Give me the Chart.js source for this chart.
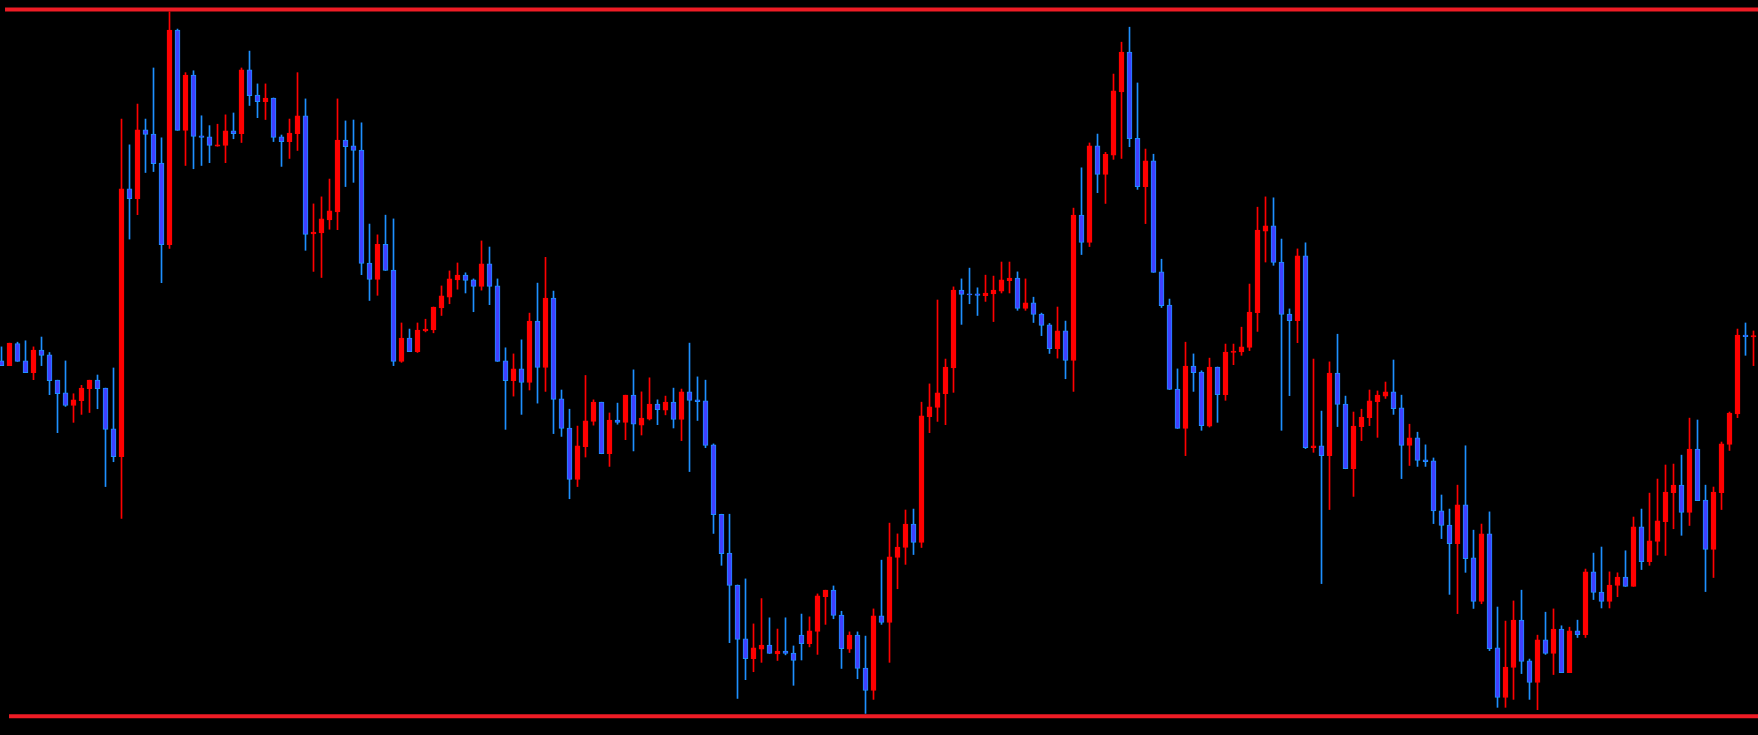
<!DOCTYPE html>
<html>
<head>
<meta charset="utf-8">
<title>Candles</title>
<script src="https://cdn.jsdelivr.net/npm/chart.js@4/dist/chart.umd.min.js"></script>
<style>
  html, body { margin: 0; padding: 0; background: #000; overflow: hidden; }
  #wrap { position: relative; width: 1758px; height: 735px; }
</style>
</head>
<body>
<div id="wrap"><canvas id="chart"></canvas></div>
<script>
// OHLC, one entry per bar (220 bars)
const opens = [
  83.0, 82.0, 86.7, 83.0, 80.5, 85.3, 84.3, 78.9, 76.2, 73.5,
  74.5, 77.1, 78.9, 77.2, 68.5, 62.6, 119.7, 117.6, 132.3, 131.4,
  125.2, 107.8, 153.6, 132.2, 144.0, 131.0, 130.8, 128.8, 129.0, 132.1,
  131.5, 145.1, 139.7, 138.3, 139.1, 130.8, 129.8, 131.5, 135.3, 110.1,
  110.3, 113.1, 114.8, 130.1, 128.9, 128.0, 103.9, 100.4, 107.9, 102.4,
  82.9, 87.9, 85.0, 89.4, 89.6, 94.3, 96.6, 100.3, 101.3, 100.3,
  98.9, 103.7, 99.0, 83.0, 78.8, 81.3, 78.4, 91.5, 81.6, 96.4,
  74.9, 68.7, 57.7, 64.7, 70.1, 74.2, 63.2, 70.4, 69.9, 75.7,
  69.3, 70.6, 73.8, 72.5, 74.2, 70.5, 76.4, 74.7, 74.5, 65.1,
  50.3, 42.0, 35.2, 23.7, 19.5, 21.5, 22.4, 20.5, 21.1, 20.7,
  24.5, 22.7, 25.3, 32.7, 34.1, 28.8, 21.5, 24.5, 17.5, 12.7,
  28.6, 27.2, 41.1, 43.2, 48.2, 44.3, 71.1, 73.1, 76.0, 81.5,
  98.1, 97.3, 97.3, 96.9, 97.3, 97.9, 100.1, 100.7, 94.2, 95.4,
  93.0, 90.7, 85.6, 89.4, 83.1, 114.1, 108.3, 128.9, 122.8, 126.9,
  140.4, 148.9, 130.5, 120.2, 125.7, 102.0, 94.9, 77.0, 68.6, 81.9,
  80.6, 69.1, 81.7, 75.8, 84.8, 84.9, 85.9, 93.3, 110.7, 111.8,
  104.1, 93.0, 91.6, 105.4, 64.5, 64.9, 62.8, 80.4, 73.8, 60.0,
  69.0, 70.9, 74.3, 75.5, 76.4, 73.0, 65.0, 66.6, 61.9, 61.7,
  51.0, 48.0, 44.0, 52.3, 41.0, 31.7, 46.1, 21.8, 11.2, 17.6,
  27.7, 19.0, 14.4, 23.5, 20.6, 25.8, 16.5, 25.4, 24.6, 38.0,
  33.7, 31.7, 35.1, 36.9, 34.9, 47.6, 40.2, 44.5, 48.7, 54.9,
  56.5, 50.7, 64.2, 53.3, 42.8, 54.9, 65.2, 71.7, 88.5, 88.1
];
const highs = [
  86.0, 86.8, 87.0, 87.3, 86.0, 88.1, 84.8, 78.9, 83.0, 76.0,
  77.8, 78.9, 80.0, 77.2, 81.5, 134.6, 129.1, 137.8, 134.6, 145.5,
  130.6, 157.5, 153.8, 144.5, 144.9, 135.3, 133.2, 133.5, 135.5, 135.9,
  145.5, 149.1, 142.1, 142.1, 139.1, 131.2, 134.6, 144.5, 138.9, 116.5,
  118.0, 121.8, 138.9, 134.2, 134.4, 133.8, 112.2, 109.9, 114.1, 113.3,
  91.1, 89.8, 91.1, 91.9, 94.5, 99.0, 102.2, 103.9, 101.8, 100.5,
  108.6, 107.3, 100.5, 85.8, 84.5, 87.5, 93.2, 99.6, 105.1, 97.9,
  76.8, 72.7, 69.1, 79.9, 74.7, 74.2, 71.9, 74.0, 75.7, 81.1,
  76.4, 79.4, 74.7, 75.5, 77.2, 77.0, 86.8, 79.6, 78.9, 65.3,
  50.3, 50.3, 35.2, 36.5, 26.9, 32.3, 28.2, 25.8, 28.2, 22.2,
  29.0, 28.4, 33.3, 34.1, 35.0, 29.6, 25.2, 25.2, 24.3, 30.1,
  40.5, 48.4, 46.1, 51.2, 51.4, 74.2, 78.1, 96.0, 83.4, 98.8,
  100.5, 102.8, 98.6, 101.3, 101.1, 104.1, 104.1, 102.0, 100.5, 96.6,
  93.2, 91.0, 94.5, 91.5, 115.6, 124.2, 129.5, 131.4, 127.5, 144.2,
  151.0, 154.2, 142.3, 128.2, 127.1, 104.7, 96.2, 81.3, 87.0, 84.5,
  80.9, 83.6, 81.7, 86.6, 86.6, 90.2, 99.4, 115.8, 118.0, 117.8,
  109.0, 94.1, 106.9, 108.2, 83.4, 72.3, 82.8, 88.7, 75.5, 72.1,
  72.7, 76.8, 76.6, 78.5, 83.2, 75.7, 69.5, 67.8, 65.1, 62.3,
  54.4, 51.4, 56.5, 64.9, 46.9, 48.2, 50.8, 30.5, 27.5, 31.8,
  34.1, 19.4, 24.5, 29.4, 30.1, 26.5, 26.2, 27.7, 38.6, 42.0,
  43.3, 38.0, 37.8, 42.5, 49.7, 51.4, 54.8, 57.8, 60.8, 61.0,
  62.9, 70.8, 70.4, 56.5, 56.1, 65.7, 72.1, 89.8, 91.1, 89.4
];
const lows = [
  82.0, 82.0, 82.9, 80.5, 79.0, 82.0, 75.8, 67.7, 73.3, 69.9,
  71.6, 72.0, 72.8, 56.2, 61.5, 49.4, 109.0, 114.2, 123.2, 123.4,
  99.7, 107.0, 132.2, 124.7, 124.0, 124.7, 125.3, 128.8, 125.3, 130.4,
  129.6, 137.5, 134.9, 134.5, 129.8, 124.5, 126.2, 127.9, 106.6, 102.1,
  100.8, 111.1, 111.0, 120.2, 121.1, 101.4, 95.9, 97.0, 102.3, 82.0,
  82.7, 85.0, 84.8, 89.2, 89.0, 92.7, 95.2, 98.3, 97.5, 93.5,
  98.1, 95.0, 82.9, 68.4, 75.5, 71.6, 76.8, 74.0, 76.5, 67.5,
  66.9, 53.6, 56.2, 62.5, 69.3, 63.2, 60.5, 69.5, 66.2, 63.8,
  67.2, 70.4, 69.4, 71.5, 68.7, 66.0, 59.4, 70.3, 64.5, 46.2,
  39.4, 22.9, 11.0, 15.0, 16.7, 18.7, 20.6, 19.1, 20.3, 13.8,
  19.2, 22.0, 20.4, 26.8, 28.0, 17.4, 20.8, 15.2, 7.8, 10.8,
  26.8, 18.7, 34.4, 39.6, 41.7, 43.2, 67.7, 70.1, 69.4, 76.3,
  90.8, 95.2, 92.7, 95.7, 91.4, 97.5, 97.5, 93.8, 93.8, 91.2,
  88.4, 84.6, 83.6, 79.2, 76.5, 105.7, 107.4, 118.9, 116.6, 126.0,
  126.2, 128.7, 119.6, 112.3, 101.9, 94.4, 76.9, 68.6, 62.8, 76.5,
  68.2, 68.9, 69.9, 74.6, 82.2, 84.2, 85.2, 89.3, 104.1, 103.4,
  68.2, 75.6, 86.9, 64.3, 63.5, 35.5, 51.3, 69.0, 60.0, 54.1,
  66.0, 69.2, 66.7, 75.0, 71.6, 57.9, 60.7, 60.5, 60.5, 48.3,
  45.1, 33.2, 29.1, 37.9, 30.2, 31.2, 21.2, 9.1, 9.1, 10.8,
  16.3, 10.8, 8.6, 20.4, 16.1, 16.5, 16.5, 24.0, 24.0, 32.1,
  30.3, 30.3, 32.7, 34.9, 34.9, 38.5, 39.4, 41.6, 41.5, 47.2,
  45.8, 47.9, 53.2, 33.8, 36.8, 51.3, 63.9, 70.9, 84.2, 82.0
];
const closes = [
  82.0, 86.8, 82.9, 80.5, 85.3, 84.2, 78.8, 76.0, 73.5, 74.7,
  77.2, 78.9, 77.1, 68.4, 62.6, 119.7, 117.6, 132.3, 131.3, 125.1,
  107.8, 153.6, 132.2, 144.0, 130.9, 130.7, 129.0, 129.1, 132.1, 131.5,
  145.1, 139.6, 138.3, 139.1, 130.7, 129.8, 131.6, 135.3, 110.0, 110.5,
  113.3, 115.0, 130.1, 128.7, 127.9, 103.8, 100.4, 107.9, 102.3, 82.9,
  87.9, 85.0, 89.6, 89.8, 94.5, 96.9, 100.5, 101.3, 100.2, 98.9,
  103.7, 98.9, 82.9, 78.8, 81.3, 78.4, 91.5, 81.6, 96.4, 74.8,
  68.6, 57.7, 64.9, 70.2, 74.2, 63.2, 70.4, 69.9, 75.7, 69.5,
  70.8, 73.8, 72.6, 74.2, 70.5, 76.4, 74.6, 74.3, 65.0, 50.2,
  41.9, 35.1, 23.6, 19.5, 21.8, 22.4, 20.6, 21.1, 20.6, 19.1,
  22.7, 25.4, 32.9, 34.1, 28.7, 21.6, 24.5, 17.4, 12.7, 28.6,
  27.2, 41.2, 43.3, 48.2, 44.3, 71.3, 73.2, 76.2, 81.7, 98.1,
  97.2, 97.1, 97.0, 97.5, 98.1, 100.3, 100.7, 94.2, 95.4, 92.9,
  90.6, 85.6, 89.4, 83.1, 114.1, 108.3, 128.9, 122.8, 127.1, 140.6,
  148.9, 130.4, 120.2, 125.7, 101.9, 94.8, 76.9, 68.6, 81.9, 80.5,
  69.2, 81.7, 75.8, 84.9, 85.1, 86.0, 93.4, 110.9, 111.8, 104.0,
  92.9, 91.6, 105.4, 64.5, 64.9, 62.8, 80.4, 73.7, 60.0, 69.1,
  71.0, 74.5, 75.7, 76.4, 72.8, 65.0, 66.6, 61.8, 61.5, 51.0,
  47.9, 44.0, 52.3, 40.8, 31.7, 46.1, 21.6, 11.2, 17.7, 27.7,
  18.9, 14.4, 23.5, 20.6, 25.8, 16.5, 25.4, 24.6, 38.0, 33.6,
  31.7, 35.2, 36.9, 34.9, 47.6, 40.2, 44.6, 48.9, 55.0, 56.5,
  50.7, 64.2, 53.2, 42.8, 55.0, 65.3, 71.9, 88.5, 88.2, 88.4
];

// the two horizontal levels (top / bottom) and the bar where each one starts
const levels = [158.0, 7.2];
const levelFrom = [0.44, 0.94];

const upColor = '#ff0000';
const downFill = '#4040ff';
const downEdge = '#1e90ff';
const levelColor = '#ee1c25';

const lastBar = opens.length - 1;
const xMin = -0.1875;
const xMax = xMin + 1758 / 8;

const isUp = closes.map((c, i) => c >= opens[i]);
const bodies = opens.map((o, i) => ({ x: i, y: [o, closes[i]] }));
const wicks = lows.map((l, i) => ({ x: i, y: [l, highs[i]] }));

const levelSets = levels.map((lv, i) => ({
  type: 'line',
  data: [{ x: levelFrom[i], y: lv }, { x: xMax, y: lv }],
  borderColor: levelColor,
  borderWidth: 4,
  pointRadius: 0,
  fill: false,
  clip: false
}));

new Chart(document.getElementById('chart'), {
  type: 'bar',
  data: {
    datasets: [
      {
        // candle bodies
        data: bodies,
        grouped: false,
        barThickness: 5,
        minBarLength: 1,
        borderSkipped: false,
        borderWidth: 1,
        backgroundColor: isUp.map(u => u ? upColor : downFill),
        borderColor: isUp.map(u => u ? upColor : downEdge)
      },
      {
        // wicks
        data: wicks,
        grouped: false,
        barThickness: 1,
        borderWidth: 0,
        backgroundColor: isUp.map(u => u ? upColor : downEdge)
      },
      ...levelSets
    ]
  },
  options: {
    responsive: true,
    maintainAspectRatio: false,
    animation: false,
    layout: { padding: 0 },
    plugins: {
      legend: { display: false },
      tooltip: { enabled: false }
    },
    scales: {
      x: { type: 'linear', min: xMin, max: xMax, display: false, offset: false },
      y: { type: 'linear', min: 3.2, max: 160, display: false }
    }
  }
});
</script>
</body>
</html>
